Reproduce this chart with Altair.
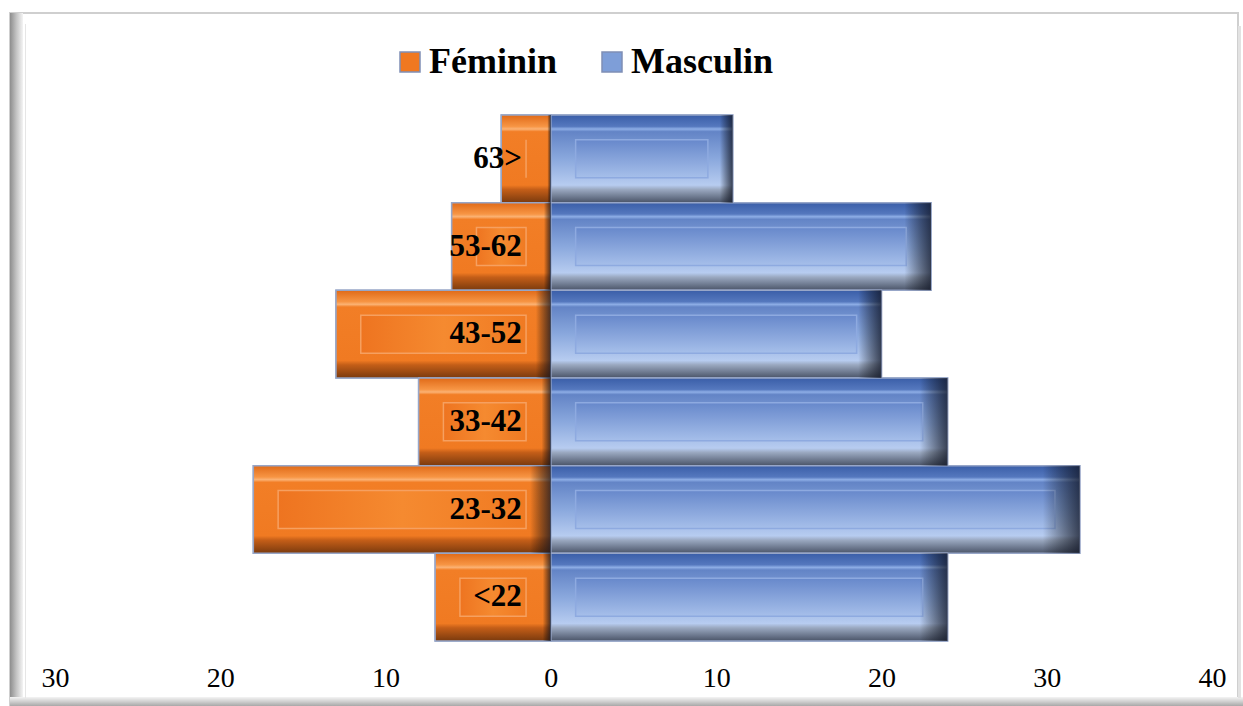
import altair as alt
import pandas as pd

categories = ["63>", "53-62", "43-52", "33-42", "23-32", "<22"]
feminin = [3, 6, 13, 8, 18, 7]
masculin = [11, 23, 20, 24, 32, 24]
series = ["Féminin", "Masculin"]
series_colors = ["#F07820", "#7E9ED8"]
x_ticks = [-30, -20, -10, 0, 10, 20, 30, 40]

rows = []
for c, f, m in zip(categories, feminin, masculin):
    rows.append({"groupe": c, "sexe": "Féminin", "valeur": -f, "sign": -1})
    rows.append({"groupe": c, "sexe": "Masculin", "valeur": m, "sign": 1})
df = pd.DataFrame(rows)

W, H = 1198, 649
SERIF = "Liberation Serif"

xscale = alt.Scale(domain=[-31.27, 41.21], nice=False, zero=False)
yscale = alt.Scale(domain=categories, range=[77, 603], paddingInner=0, paddingOuter=0)
AX = alt.Axis(values=x_ticks, labelExpr="abs(datum.value)", domain=False, ticks=False,
              tickSize=0, grid=False, offset=-23, labelPadding=0, labelFont=SERIF,
              labelFontSize=28, labelColor="black", labelBaseline="top", zindex=2)
Y = alt.Y("groupe:N", scale=yscale, axis=None, title=None)


def vgrad(stops):
    return alt.Gradient(gradient="linear", x1=0, x2=0, y1=0, y2=1,
                        stops=[alt.GradientStop(color=c, offset=o) for o, c in stops])


def hgrad(stops):
    return alt.Gradient(gradient="linear", x1=0, x2=1, y1=0, y2=0,
                        stops=[alt.GradientStop(color=c, offset=o) for o, c in stops])


grad_f = vgrad([(0, "#E06A18"), (0.13, "#F79544"), (0.16, "#FBB274"), (0.19, "#F27E26"),
                (0.8, "#F07A22"), (0.85, "#C45E18"), (1, "#7A3A0E")])
grad_m = vgrad([(0, "#3A5EA8"), (0.13, "#5578BE"), (0.16, "#8EAEE6"), (0.19, "#6384C6"),
                (0.5, "#8AA8DD"), (0.8, "#B7CCF0"), (0.85, "#9AA8C0"), (1, "#4A5468")])
inner_f = hgrad([(0, "#EE7420"), (0.5, "#F58A30"), (1, "#F07A22")])
inner_m = vgrad([(0, "#6788CB"), (1, "#A6BFEA")])
edge = hgrad([(0, "rgba(0,0,0,0)"), (0.93, "rgba(0,0,0,0)"), (1, "rgba(15,20,35,0.75)")])

base = alt.Chart(df)

bars = base.mark_bar(stroke="#97A6C8", strokeWidth=1.5).encode(
    x=alt.X("valeur:Q", scale=xscale, axis=AX, title=None, stack=None),
    x2=alt.datum(0),
    y=Y,
    color=alt.Color("sexe:N", scale=alt.Scale(domain=series, range=series_colors),
                    legend=alt.Legend(orient="none", legendX=358, legendY=6,
                                      direction="horizontal", title=None,
                                      labelFont=SERIF, labelFontSize=36,
                                      labelFontWeight="bold", labelColor="black",
                                      symbolType="square", symbolSize=400,
                                      symbolStrokeColor="#7F8FB5", symbolStrokeWidth=1.5,
                                      symbolOpacity=1, labelOffset=1, columnPadding=36,
                                      padding=0, labelLimit=0)),
)


def shade(sex, fill):
    return base.transform_filter(alt.datum.sexe == sex).mark_bar(
        fill=fill, stroke="#97A6C8", strokeWidth=1.5, opacity=1
    ).encode(
        x=alt.X("valeur:Q", scale=xscale, axis=AX, title=None, stack=None),
        x2=alt.datum(0),
        y=Y,
    )


def inner(sex, fill, stroke):
    return base.transform_filter(alt.datum.sexe == sex).transform_calculate(
        xa="datum.sign*1.5", xb="datum.valeur - datum.sign*1.5"
    ).mark_bar(size=38, fill=fill, stroke=stroke, strokeWidth=1.5).encode(
        x=alt.X("xa:Q", scale=xscale, axis=AX, title=None, stack=None),
        x2="xb:Q",
        y=Y,
    )


edges = base.mark_bar(fill=edge, strokeWidth=0).encode(
    x=alt.X("valeur:Q", scale=xscale, axis=AX, title=None, stack=None),
    x2=alt.datum(0),
    y=Y,
)

labels = base.transform_filter(alt.datum.sexe == "Féminin").transform_calculate(
    zero="0"
).mark_text(align="right", baseline="middle", dx=-29, font=SERIF, fontSize=31,
            fontWeight="bold", color="black").encode(
    x=alt.X("zero:Q", scale=xscale, axis=AX, title=None),
    y=Y,
    text="groupe:N",
)

one = alt.Data(values=[{"k": 1}])
frame = alt.Chart(one).mark_rect(fill="white", stroke="#CFCFCF", strokeWidth=2).encode(
    x=alt.value(-24), x2=alt.value(1204), y=alt.value(-25), y2=alt.value(668)
)
left_bevel = alt.Chart(one).mark_rect(
    fill=hgrad([(0, "#8E8E8E"), (0.5, "#C4C4C4"), (1, "#F4F4F4")])
).encode(x=alt.value(-24), x2=alt.value(-11), y=alt.value(-25), y2=alt.value(668))
bottom_bevel = alt.Chart(one).mark_rect(
    fill=vgrad([(0, "#F4F4F4"), (0.5, "#D0D0D0"), (1, "#A8A8A8")])
).encode(x=alt.value(-24), x2=alt.value(1209), y=alt.value(659), y2=alt.value(668))
right_line = alt.Chart(one).mark_rect(fill="#E2E2E2").encode(
    x=alt.value(1204), x2=alt.value(1207), y=alt.value(-12), y2=alt.value(660)
)
inner_frame = alt.Chart(one).mark_rect(fill="#E6E6E6").encode(
    x=alt.value(-9), x2=alt.value(-8), y=alt.value(-14), y2=alt.value(660)
)

chart = alt.layer(
    frame, left_bevel, bottom_bevel, right_line, inner_frame,
    bars,
    shade("Féminin", grad_f), shade("Masculin", grad_m),
    inner("Féminin", inner_f, "#F6A060"), inner("Masculin", inner_m, "#8EAAE0"),
    edges, labels,
).properties(
    width=W, height=H, autosize="none",
    padding={"left": 34, "top": 38, "right": 11, "bottom": 19},
    background="white",
).configure_view(stroke="#D9D9D9", strokeWidth=1)

chart.save("out.html", embed_options={"renderer": "svg", "actions": False})
